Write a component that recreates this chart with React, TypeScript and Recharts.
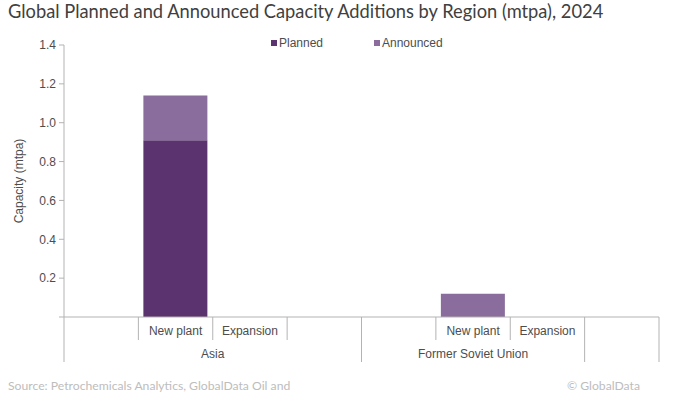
import { BarChart, Bar, XAxis, YAxis, Label } from 'recharts';

const subLabels = ['', 'New plant', 'Expansion', '', '', 'New plant', 'Expansion', ''];
const regionLabels = ['Asia', 'Asia', 'Asia', 'Asia', 'Former Soviet Union', 'Former Soviet Union', 'Former Soviet Union', ''];
const regionIds = [0, 0, 0, 0, 1, 1, 1, 2];
const planned = [0, 0.91, 0, 0, 0, 0, 0, 0];
const announced = [0, 0.23, 0, 0, 0, 0.12, 0, 0];
const yTicks = [0, 0.2, 0.4, 0.6, 0.8, 1.0, 1.2, 1.4];

const series = [
  { key: 'planned', name: 'Planned', color: '#5a336f' },
  { key: 'announced', name: 'Announced', color: '#8a6d9c' },
];

const data = subLabels.map((label, i) => ({
  id: i,
  label,
  region: regionLabels[i],
  planned: planned[i],
  announced: announced[i],
}));

const W = 674;
const H = 407;
const PLOT_LEFT = 64;
const PLOT_RIGHT = 659;
const BAND = (PLOT_RIGHT - PLOT_LEFT) / subLabels.length;
const AXIS_COLOR = '#b3b3b3';
const TEXT_COLOR = '#4d4d4d';
const AXIS_FONT = '"Liberation Sans", Arial, sans-serif';

function CategoryTick(props: any) {
  const { x, y, index } = props;
  const half = BAND / 2;
  const i = index as number;
  const left = x - half;
  const newGroup = i === 0 || regionIds[i] !== regionIds[i - 1];
  let count = 0;
  if (newGroup) {
    for (let j = i; j < regionIds.length && regionIds[j] === regionIds[i]; j++) count++;
  }
  return (
    <g>
      <line x1={left} x2={left} y1={y} y2={newGroup ? y + 45 : y + 23} stroke={AXIS_COLOR} />
      {i === subLabels.length - 1 && (
        <line x1={x + half} x2={x + half} y1={y} y2={y + 45} stroke={AXIS_COLOR} />
      )}
      <text x={x} y={y + 14} textAnchor="middle" dominantBaseline="central"
        fontSize={12} fill={TEXT_COLOR} fontFamily={AXIS_FONT}>
        {subLabels[i]}
      </text>
      {newGroup && (
        <text x={left + count * half} y={y + 37} textAnchor="middle" dominantBaseline="central"
          fontSize={12} fill={TEXT_COLOR} fontFamily={AXIS_FONT}>
          {regionLabels[i]}
        </text>
      )}
    </g>
  );
}

export default function App() {
  return (
    <div style={{ position: 'absolute', left: 0, top: 0, width: W, height: H, background: '#fff', overflow: 'hidden' }}>
      <div style={{
        position: 'absolute', left: 8, top: 0, fontFamily: 'Lato, sans-serif', fontSize: 18.3,
        color: '#404040', whiteSpace: 'nowrap',
      }}>
        Global Planned and Announced Capacity Additions by Region (mtpa), 2024
      </div>

      <div style={{ position: 'absolute', top: 35, left: 0, width: W, height: 16, fontFamily: AXIS_FONT, fontSize: 12, color: TEXT_COLOR }}>
        {series.map((s, i) => (
          <div key={s.key} style={{ position: 'absolute', left: i === 0 ? 271 : 374, top: 0, display: 'flex', alignItems: 'center', height: 16 }}>
            <span style={{ display: 'inline-block', width: 6, height: 6, background: s.color, marginRight: 2 }} />
            <span>{s.name}</span>
          </div>
        ))}
      </div>

      <div style={{ position: 'absolute', left: 0, top: 0 }}>
        <BarChart width={W} height={H} data={data} margin={{ top: 45, right: W - PLOT_RIGHT, left: 0, bottom: 40 }}
          barSize={64}>
          <XAxis
            dataKey="id"
            type="category"
            interval={0}
            height={50}
            tickLine={false}
            tickSize={0}
            tickMargin={0}
            axisLine={{ stroke: AXIS_COLOR }}
            tick={<CategoryTick />}
          />
          <YAxis
            width={PLOT_LEFT}
            domain={[0, 1.4]}
            ticks={yTicks}
            tickSize={5}
            tickMargin={3}
            axisLine={{ stroke: AXIS_COLOR }}
            tickLine={{ stroke: AXIS_COLOR }}
            tick={{ fontSize: 12, fill: TEXT_COLOR, fontFamily: AXIS_FONT }}
            tickFormatter={(v: number) => (v === 0 ? '' : v.toFixed(1))}
          >
            <Label
              content={(p: any) => {
                const vb = p.viewBox || { y: 45, height: 272 };
                const cy = vb.y + vb.height / 2;
                return (
                  <text x={19} y={cy} transform={`rotate(-90, 19, ${cy})`} textAnchor="middle"
                    dominantBaseline="central" fontSize={12} fill={TEXT_COLOR} fontFamily={AXIS_FONT}>
                    Capacity (mtpa)
                  </text>
                );
              }}
            />
          </YAxis>
          {series.map((s) => (
            <Bar key={s.key} dataKey={s.key} name={s.name} stackId="a" fill={s.color} isAnimationActive={false} />
          ))}
        </BarChart>
      </div>

      <div style={{
        position: 'absolute', left: 8, top: 378, fontFamily: 'Lato, sans-serif', fontSize: 12.2,
        color: '#bdbdbd', whiteSpace: 'nowrap',
      }}>
        Source: Petrochemicals Analytics, GlobalData Oil and
      </div>
      <div style={{
        position: 'absolute', right: 34, top: 378, fontFamily: 'Lato, sans-serif', fontSize: 12.2,
        color: '#bdbdbd', whiteSpace: 'nowrap',
      }}>
        © GlobalData
      </div>
    </div>
  );
}
